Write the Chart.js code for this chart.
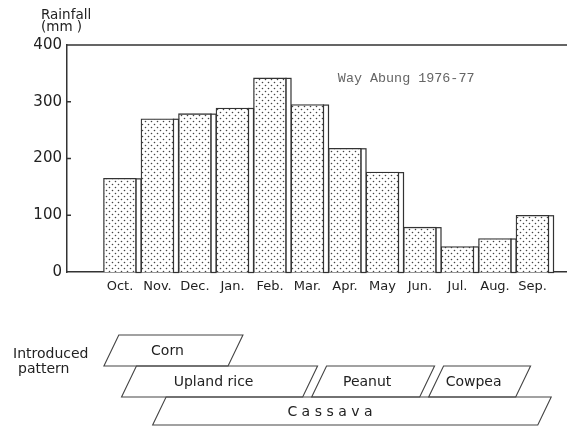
<!DOCTYPE html>
<html lang="en">
<head>
    <meta charset="UTF-8">
    <title>Way Abung rainfall and cropping pattern</title>
    <script src="https://cdn.jsdelivr.net/npm/chart.js"></script>
    <style>
        body { margin: 0; background: #fff; }
        canvas { display: block; }
    </style>
</head>
<body>
    <canvas id="rainChart" width="567" height="426"></canvas>

    <script>
        // monthly rainfall, Way Abung 1976-77
        const months = ['Oct.', 'Nov.', 'Dec.', 'Jan.', 'Feb.', 'Mar.', 'Apr.', 'May', 'Jun.', 'Jul.', 'Aug.', 'Sep.'];
        const rainfall = [165, 270, 279, 289, 342, 295, 218, 176, 79, 45, 59, 100];
        const yTicks = [0, 100, 200, 300, 400];

        // introduced cropping pattern (month index, 0 = Oct.)
        const crops = ['Corn', 'Upland rice', 'Peanut', 'Cowpea', 'C a s s a v a'];
        const cropStart = [-0.23, 0.24, 5.31, 8.43, 1.05];
        const cropEnd = [3.08, 5.07, 8.19, 10.75, 11.32];
        const cropRow = [0, 1, 1, 1, 2];

        const ink = '#333';

        // dotted fill for the bars
        function dotPattern() {
            const c = document.createElement('canvas');
            c.width = 6;
            c.height = 6;
            const g = c.getContext('2d');
            g.fillStyle = '#fff';
            g.fillRect(0, 0, 6, 6);
            g.fillStyle = '#444';
            g.beginPath();
            g.arc(1.5, 1.5, 0.8, 0, Math.PI * 2);
            g.arc(4.5, 4.5, 0.8, 0, Math.PI * 2);
            g.fill();
            return document.getElementById('rainChart').getContext('2d').createPattern(c, 'repeat');
        }

        const extras = {
            id: 'extras',
            afterDatasetsDraw(chart) {
                const ctx = chart.ctx;
                const area = chart.chartArea;
                const xs = chart.scales.x;
                const ys = chart.scales.y;

                // side strip on every bar
                ctx.save();
                ctx.lineWidth = 1.2;
                ctx.strokeStyle = ink;
                chart.getDatasetMeta(0).data.forEach(bar => {
                    const right = bar.x + bar.width / 2;
                    ctx.fillStyle = '#fff';
                    ctx.fillRect(right, bar.y, 4.5, bar.base - bar.y);
                    ctx.strokeRect(right - 0.5, bar.y + 0.5, 5, bar.base - bar.y);
                });

                // top frame line and inward ticks
                ctx.lineWidth = 1.5;
                ctx.beginPath();
                ctx.moveTo(area.left, area.top);
                ctx.lineTo(area.right, area.top);
                yTicks.slice(1).forEach(v => {
                    const py = ys.getPixelForValue(v);
                    ctx.moveTo(area.left, py);
                    ctx.lineTo(area.left + 4, py);
                });
                ctx.stroke();

                // axis caption
                ctx.fillStyle = '#222';
                ctx.font = '13.5px "DejaVu Sans"';
                ctx.textAlign = 'left';
                ctx.textBaseline = 'alphabetic';
                ctx.fillText('Rainfall', 41, 19);
                ctx.fillText('(mm )', 41, 31);

                // station note
                ctx.fillStyle = '#666';
                ctx.font = '13.4px "Liberation Mono"';
                ctx.fillText('Way Abung 1976-77', xs.getPixelForValue(5.81), ys.getPixelForValue(335));

                // cropping pattern
                ctx.fillStyle = '#222';
                ctx.font = '14px "DejaVu Sans"';
                ctx.fillText('Introduced', 13, 358);
                ctx.fillText('pattern', 18, 373);

                const rowTop = [335, 366, 397];
                const rowBottom = [366, 397, 425];
                ctx.strokeStyle = '#444';
                ctx.lineWidth = 1.1;
                ctx.textAlign = 'center';
                ctx.textBaseline = 'middle';
                crops.forEach((name, i) => {
                    const t = rowTop[cropRow[i]];
                    const b = rowBottom[cropRow[i]];
                    const half = (b - t) * 0.24;
                    const x0 = xs.getPixelForValue(cropStart[i]);
                    const x1 = xs.getPixelForValue(cropEnd[i]);
                    ctx.beginPath();
                    ctx.moveTo(x0 + half, t);
                    ctx.lineTo(x1 + half, t);
                    ctx.lineTo(x1 - half, b);
                    ctx.lineTo(x0 - half, b);
                    ctx.closePath();
                    ctx.stroke();
                    const shift = i === 4 ? -22 : -6;
                    ctx.fillText(name, (x0 + x1) / 2 + shift, (t + b) / 2 + 1);
                });
                ctx.restore();
            }
        };

        new Chart(document.getElementById('rainChart'), {
            type: 'bar',
            data: {
                datasets: [{
                    data: months.map((m, i) => ({ x: i, y: rainfall[i] })),
                    backgroundColor: dotPattern(),
                    borderColor: ink,
                    borderWidth: 1.3,
                    barThickness: 33
                }]
            },
            options: {
                responsive: false,
                animation: false,
                layout: { padding: { top: 45, right: 0, bottom: 124, left: 0 } },
                plugins: {
                    legend: { display: false },
                    tooltip: { enabled: false }
                },
                scales: {
                    x: {
                        type: 'linear',
                        offset: false,
                        min: -1.413,
                        max: 11.92,
                        afterBuildTicks: scale => { scale.ticks = months.map((m, i) => ({ value: i })); },
                        afterFit: scale => { scale.height = 30; },
                        grid: { display: false, drawTicks: false },
                        border: { display: true, color: ink, width: 1.5 },
                        ticks: {
                            autoSkip: false,
                            maxRotation: 0,
                            padding: 7,
                            color: '#222',
                            font: { family: 'DejaVu Sans', size: 13 },
                            callback: v => months[Math.round(v)]
                        }
                    },
                    y: {
                        min: 0,
                        max: 400,
                        afterBuildTicks: scale => { scale.ticks = yTicks.map(v => ({ value: v })); },
                        afterFit: scale => { scale.width = 67; },
                        grid: { display: false, drawTicks: false },
                        border: { display: true, color: ink, width: 1.5 },
                        ticks: {
                            padding: 5,
                            color: '#222',
                            font: { family: 'DejaVu Sans', size: 15 }
                        }
                    }
                }
            },
            plugins: [extras]
        });
    </script>
</body>
</html>
